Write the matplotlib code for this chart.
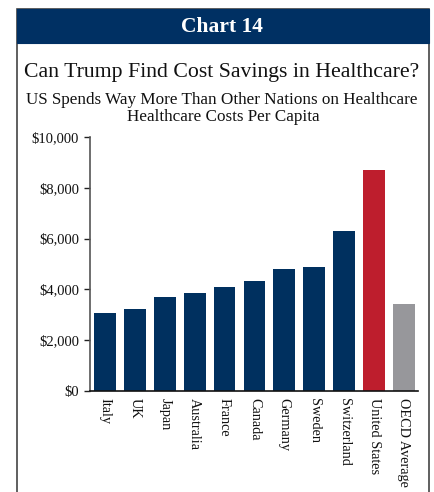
import matplotlib
matplotlib.use("Agg")
import matplotlib.pyplot as plt
from matplotlib.patches import Rectangle
from matplotlib.ticker import FuncFormatter

countries = ["Italy", "UK", "Japan", "Australia", "France", "Canada", "Germany",
             "Sweden", "Switzerland", "United States", "OECD Average"]
costs = [3070, 3230, 3700, 3860, 4090, 4330, 4800, 4880, 6300, 8700, 3430]
colors = ["#00305F"] * 9 + ["#BE1E2D", "#97979B"]

header = "Chart 14"
title = "Can Trump Find Cost Savings in Healthcare?"
subtitle1 = "US Spends Way More Than Other Nations on Healthcare"
subtitle2 = "Healthcare Costs Per Capita"

W, H = 434, 492
fig = plt.figure(figsize=(W / 100, H / 100), dpi=100)
fig.patch.set_facecolor("white")
serif = "Liberation Serif"

def fx(px):
    return px / W

def fy(py):
    return 1 - py / H

# frame
fig.patches.append(Rectangle((fx(17), fy(500)), fx(429) - fx(17), fy(9) - fy(500),
                             transform=fig.transFigure, facecolor="none",
                             edgecolor="#444444", linewidth=1.2, zorder=0))
fig.patches.append(Rectangle((fx(17), fy(43)), fx(429) - fx(17), fy(9) - fy(43),
                             transform=fig.transFigure, facecolor="#003063",
                             edgecolor="#003063", linewidth=0.8, zorder=1))
fig.text(fx(222), fy(27), header, color="white", fontsize=15.5, fontweight="bold",
         family=serif, ha="center", va="center")
fig.text(fx(222), fy(73), title, color="#111111", fontsize=15.7, family=serif,
         ha="center", va="center")
fig.text(fx(222), fy(100), subtitle1, color="#111111", fontsize=12.3, family=serif,
         ha="center", va="center")
fig.text(fx(223), fy(117), subtitle2, color="#111111", fontsize=12.3, family=serif,
         ha="center", va="center")

ax = fig.add_axes([fx(90), fy(391), fx(418) - fx(90), fy(137) - fy(391)])
x = list(range(len(countries)))
ax.bar(x, costs, width=0.73, color=colors, zorder=2)
ax.set_ylim(0, 10000)
ax.set_xlim(-0.5, 10.47)
ax.set_yticks(range(0, 10001, 2000))
ax.yaxis.set_major_formatter(FuncFormatter(lambda v, p: "${:,.0f}".format(v)))
ax.set_xticks(x)
ax.set_xticklabels(countries, rotation=270, family=serif, fontsize=10.3,
                   va="top", ha="center", color="#111111")
for lab in ax.get_yticklabels():
    lab.set_family(serif)
    lab.set_fontsize(10.5)
    lab.set_color("#111111")
ax.tick_params(axis="y", length=4, width=1, pad=4, color="#222222")
ax.tick_params(axis="x", length=0, pad=5)
for s in ["top", "right"]:
    ax.spines[s].set_visible(False)
ax.spines["left"].set_color("#555555")
ax.spines["left"].set_linewidth(1.2)
ax.spines["bottom"].set_color("#111111")
ax.spines["bottom"].set_linewidth(1.2)

fig.savefig("out.png", dpi=100)
